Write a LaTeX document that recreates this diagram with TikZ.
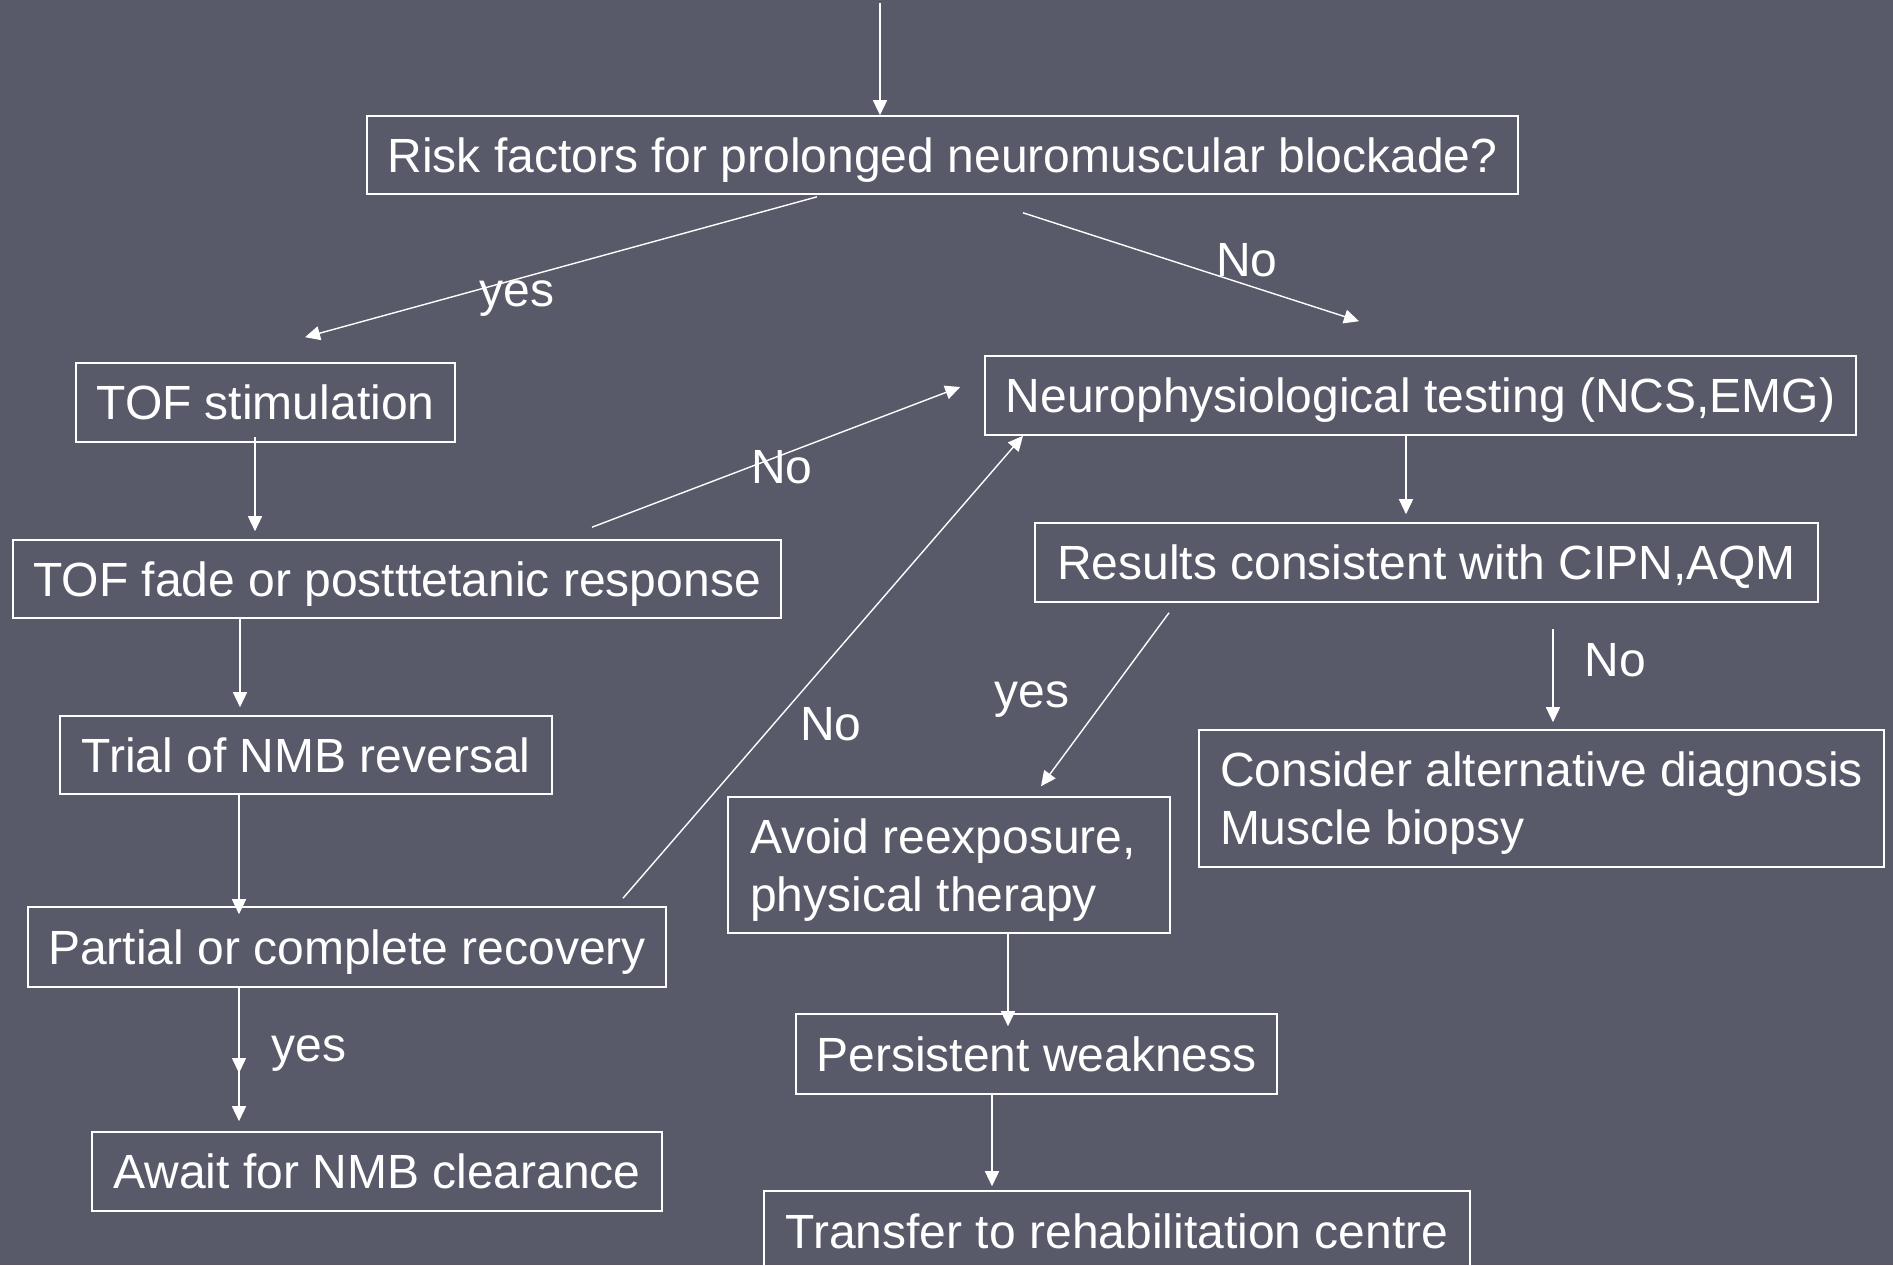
\documentclass[tikz,border=0pt]{standalone}
\usepackage{fontspec}
\setmainfont{Liberation Sans}
\usetikzlibrary{arrows.meta}
\definecolor{bg}{RGB}{88,89,105}
\begin{document}
\begin{tikzpicture}[x=0.5pt,y=-0.5pt,
  box/.style={draw=white, line width=0.8pt, text=white, inner sep=0pt,
    text depth=0pt, font=\fontsize{24}{29}\selectfont},
  twoline/.style={box, text depth=29pt},
  lbl/.style={text=white, inner sep=0pt, text depth=0pt, font=\fontsize{24}{29}\selectfont},
  arr/.style={draw=white, line width=0.7pt, -{Triangle[length=7.5pt,width=7pt]}}]
\fill[bg] (0,0) rectangle (1893,1265);
\useasboundingbox (0,0) rectangle (1893,1265);

% boxes
\node[box, minimum width=575.5pt, minimum height=39pt] (risk) at (942.5,155) {Risk factors for prolonged neuromuscular blockade?};
\node[box, minimum width=189.5pt, minimum height=39.5pt] (stim) at (265.5,402.5) {TOF stimulation};
\node[box, minimum width=384pt, minimum height=39pt] (fade) at (397,579) {TOF fade or postttetanic response};
\node[box, minimum width=435.5pt, minimum height=39.5pt] (neuro) at (1420.5,395.5) {Neurophysiological testing (NCS,EMG)};
\node[box, minimum width=391.5pt, minimum height=39.5pt] (results) at (1426.5,562.5) {Results consistent with CIPN,AQM};
\node[box, minimum width=246pt, minimum height=39pt] (trial) at (306,755) {Trial of NMB reversal};
\node[box, minimum width=319pt, minimum height=40pt] (partial) at (347,947) {Partial or complete recovery};
\node[box, minimum width=285pt, minimum height=39.5pt] (await) at (377,1171.5) {Await for NMB clearance};
\node[twoline, align=flush left, inner xsep=11pt, text width=199pt, minimum height=68pt] (avoid) at (949,865) {Avoid reexposure,\\physical therapy};
\node[box, align=left, minimum width=342.5pt, minimum height=68.5pt] (consider) at (1541.5,798.5) {Consider alternative diagnosis\\Muscle biopsy};
\node[box, minimum width=240.5pt, minimum height=40pt] (persist) at (1036.5,1054) {Persistent weakness};
\node[box, minimum width=353pt, minimum height=40pt] (transfer) at (1117,1231) {Transfer to rehabilitation centre};

% connectors
\coordinate (top) at (880,3);
\draw[arr] (top) -- (risk.north -| top);
\draw[arr] ([xshift=-62.75pt,yshift=-1pt]risk.south) -- ([xshift=19.75pt,yshift=12.5pt]stim.north);
\draw[arr] ([xshift=40.25pt,yshift=-9pt]risk.south) -- ([xshift=-30.75pt,yshift=17pt]neuro.north);
\draw[arr] ([xshift=-5.25pt,yshift=3pt]stim.south) -- ([xshift=-71pt,yshift=4pt]fade.north);
\draw[arr] ([xshift=97.5pt,yshift=6pt]fade.north) -- ([xshift=-12pt,yshift=4.25pt]neuro.west);
\draw[arr] ([xshift=-7.25pt]neuro.south) -- ([xshift=-10.25pt,yshift=4pt]results.north);
\draw[arr] ([xshift=-78.5pt]fade.south) -- ([xshift=-33pt,yshift=4pt]trial.north);
\draw[arr] ([xshift=-33.5pt]trial.south) -- ([xshift=-54pt,yshift=-4pt]partial.north);
\coordinate (mid) at (239,1073);
\draw[arr] ([xshift=-54pt]partial.south) -- (mid);
\draw[arr] ([xshift=-54pt]partial.south) -- ([xshift=-69pt,yshift=5pt]await.north);
\draw[arr] ([xshift=138pt,yshift=4pt]partial.north) -- ([xshift=-198.75pt]neuro.south);
\draw[arr] ([xshift=-128.75pt,yshift=-5pt]results.south) -- ([xshift=46pt,yshift=5pt]avoid.north);
\draw[arr] ([xshift=63.25pt,yshift=-13pt]results.south) -- ([xshift=5.75pt,yshift=3.5pt]consider.north);
\draw[arr] ([xshift=29.5pt]avoid.south) -- ([xshift=-14.25pt,yshift=-6.5pt]persist.north);
\draw[arr] ([xshift=-22.25pt,yshift=1pt]persist.south) -- ([xshift=-62.5pt,yshift=2pt]transfer.north);

% labels
\node[lbl] (l1) at (517,294) {yes};
\node[lbl] (l2) at (1247,260) {No};
\node[lbl] (l3) at (782,467) {No};
\node[lbl] (l4) at (831,724) {No};
\node[lbl] (l5) at (1032,695) {yes};
\node[lbl] (l6) at (1615,660) {No};
\node[lbl] (l7) at (309,1049) {yes};
\end{tikzpicture}
\end{document}
